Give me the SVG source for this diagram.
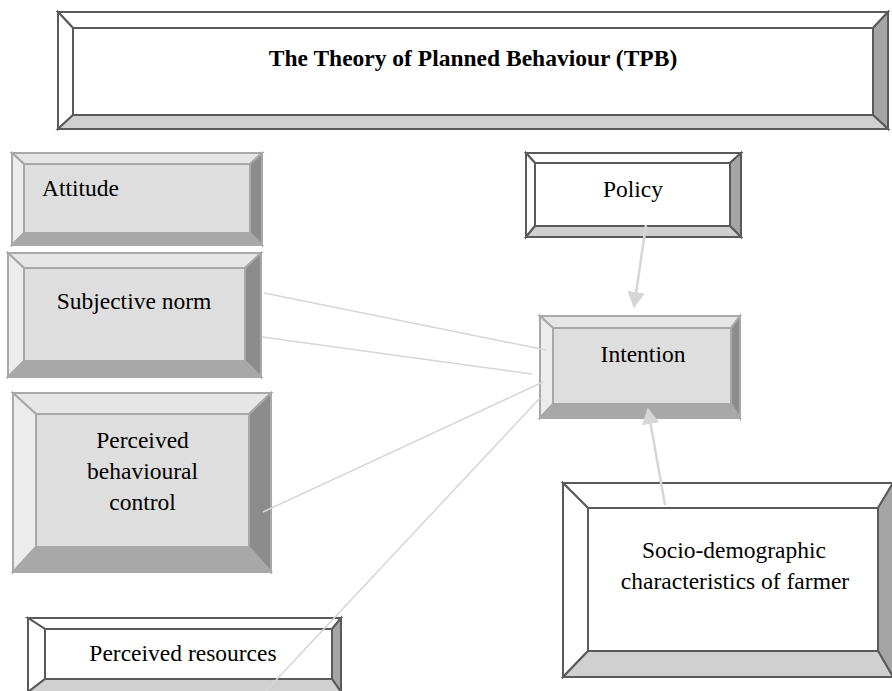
<svg xmlns="http://www.w3.org/2000/svg" width="892" height="691" viewBox="0 0 892 691" font-family="'Liberation Serif', 'DejaVu Serif', serif">
<style>
text{font-family:'Liberation Serif','DejaVu Serif',serif;font-size:23.5px;fill:#000}
.t{font-weight:bold;text-anchor:middle}
.m{text-anchor:middle}
.w polygon,.w rect{stroke:#5a5a5a;stroke-width:2;stroke-linejoin:miter}
.w .c,.w .tp,.w .lf{fill:#ffffff}
.w .rt{fill:#a5a5a5}
.w .bt{fill:#d0d0d0}
.g polygon,.g rect{stroke:#a8a8a8;stroke-width:2}
.g .c{fill:#dedede}
.g .tp{fill:#e6e6e6}
.g .lf{fill:#ececec}
.g .rt{fill:#8c8c8c}
.g .bt{fill:#a8a8a8}
.ln{stroke:#d6d6d6;stroke-width:1.5;fill:none}
.ar{stroke:#d6d6d6;stroke-width:2.5;fill:none}
</style>
<defs>
<marker id="ah" markerWidth="8" markerHeight="8" refX="6" refY="3.5" orient="auto" markerUnits="strokeWidth">
<path d="M0,0 L6.5,3.5 L0,7 Z" fill="#d6d6d6"/>
</marker>
</defs>

<g id="title" class="w">
<rect class="c" x="73" y="28" width="800" height="87"/>
<polygon class="tp" points="58,12 888,12 873,28 73,28"/>
<polygon class="lf" points="58,12 73,28 73,115 58,129"/>
<polygon class="rt" points="888,12 888,129 873,115 873,28"/>
<polygon class="bt" points="58,129 73,115 873,115 888,129"/>
<text class="t" x="473" y="66">The Theory of Planned Behaviour (TPB)</text>
</g>

<g id="attitude" class="g">
<rect class="c" x="24" y="164" width="226" height="69"/>
<polygon class="tp" points="12,153 262,153 250,164 24,164"/>
<polygon class="lf" points="12,153 24,164 24,233 12,245"/>
<polygon class="rt" points="262,153 262,245 250,233 250,164"/>
<polygon class="bt" points="12,245 24,233 250,233 262,245"/>
<text x="42" y="196">Attitude</text>
</g>

<g id="subjective-norm" class="g">
<rect class="c" x="24" y="268" width="221" height="93"/>
<polygon class="tp" points="8,253 261,253 245,268 24,268"/>
<polygon class="lf" points="8,253 24,268 24,361 8,377"/>
<polygon class="rt" points="261,253 261,377 245,361 245,268"/>
<polygon class="bt" points="8,377 24,361 245,361 261,377"/>
<text class="m" x="134" y="309">Subjective norm</text>
</g>

<g id="perceived-behavioural-control" class="g">
<rect class="c" x="36" y="414" width="213" height="133"/>
<polygon class="tp" points="13,393 271,393 249,414 36,414"/>
<polygon class="lf" points="13,393 36,414 36,547 13,572"/>
<polygon class="rt" points="271,393 271,572 249,547 249,414"/>
<polygon class="bt" points="13,572 36,547 249,547 271,572"/>
<text class="m" x="142.5" y="448">Perceived</text>
<text class="m" x="142.5" y="479">behavioural</text>
<text class="m" x="142.5" y="510">control</text>
</g>

<g id="policy" class="w">
<rect class="c" x="535" y="163" width="195" height="63"/>
<polygon class="tp" points="526,153 741,153 730,163 535,163"/>
<polygon class="lf" points="526,153 535,163 535,226 526,237"/>
<polygon class="rt" points="741,153 741,237 730,226 730,163"/>
<polygon class="bt" points="526,237 535,226 730,226 741,237"/>
<text class="m" x="633" y="197">Policy</text>
</g>

<g id="intention" class="g">
<rect class="c" x="553" y="328" width="178" height="76"/>
<polygon class="tp" points="540,316 740,316 731,328 553,328"/>
<polygon class="lf" points="540,316 553,328 553,404 540,418"/>
<polygon class="rt" points="740,316 740,418 731,404 731,328"/>
<polygon class="bt" points="540,418 553,404 731,404 740,418"/>
<text class="m" x="643" y="362">Intention</text>
</g>

<g id="socio-demographic" class="w">
<rect class="c" x="588" y="508" width="290" height="143"/>
<polygon class="tp" points="563,483 893,483 878,508 588,508"/>
<polygon class="lf" points="563,483 588,508 588,651 563,677"/>
<polygon class="rt" points="893,483 893,677 878,651 878,508"/>
<polygon class="bt" points="563,677 588,651 878,651 893,677"/>
<text class="m" x="734" y="558">Socio-demographic</text>
<text class="m" x="735" y="589">characteristics of farmer</text>
</g>

<g id="perceived-resources" class="w">
<rect class="c" x="45" y="629" width="287" height="50"/>
<polygon class="tp" points="28,618 341,618 332,629 45,629"/>
<polygon class="lf" points="28,618 45,629 45,679 28,692"/>
<polygon class="rt" points="341,618 341,692 332,679 332,629"/>
<polygon class="bt" points="28,692 45,679 332,679 341,692"/>
<text class="m" x="183" y="661">Perceived resources</text>
</g>

<g id="connectors">
<line class="ln" x1="264" y1="293" x2="546" y2="350"/>
<line class="ln" x1="262" y1="337" x2="532" y2="374"/>
<line class="ln" x1="263" y1="512" x2="543" y2="382"/>
<line class="ln" x1="264" y1="693" x2="540" y2="398"/>
<line class="ar" x1="646" y1="225" x2="634" y2="307" marker-end="url(#ah)"/>
<line class="ar" x1="665" y1="505" x2="648" y2="409" marker-end="url(#ah)"/>
</g>
</svg>
